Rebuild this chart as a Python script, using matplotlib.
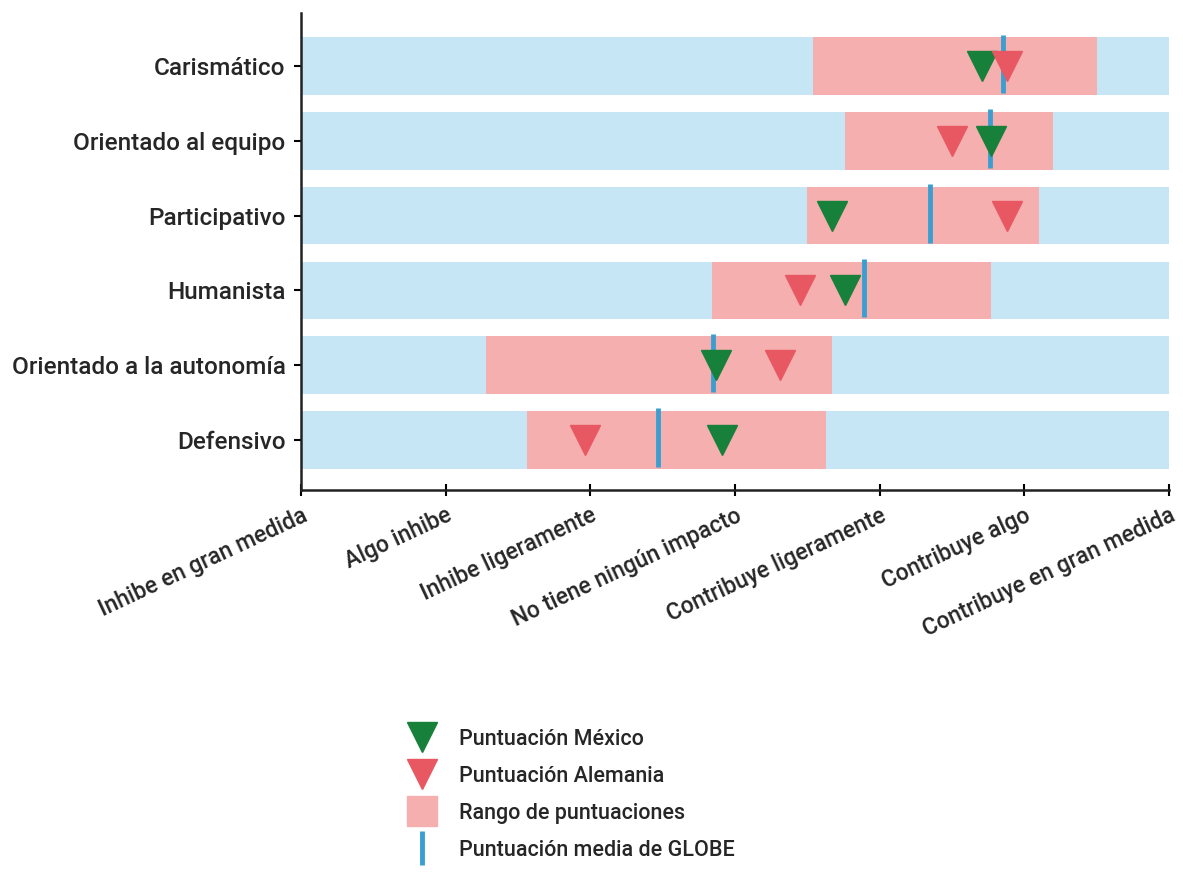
import matplotlib
matplotlib.use("Agg")
import matplotlib.pyplot as plt
from matplotlib.lines import Line2D

plt.rcParams['font.family'] = ['Roboto', 'DejaVu Sans']
plt.rcParams['font.weight'] = 'medium'

categories = ["Carismático", "Orientado al equipo", "Participativo",
              "Humanista", "Orientado a la autonomía", "Defensivo"]
range_low = [4.54, 4.76, 4.50, 3.84, 2.28, 2.56]
range_high = [6.50, 6.20, 6.10, 5.77, 4.67, 4.63]
mexico = [5.71, 5.77, 4.67, 4.76, 3.87, 3.91]
alemania = [5.88, 5.50, 5.88, 4.45, 4.31, 2.96]
globe = [5.85, 5.76, 5.35, 4.89, 3.85, 3.47]
tick_labels = ["Inhibe en gran medida", "Algo inhibe", "Inhibe ligeramente",
               "No tiene ningún impacto", "Contribuye ligeramente",
               "Contribuye algo", "Contribuye en gran medida"]
scale_min, scale_max = 1, 7

c_blue = "#c6e6f6"
c_pink = "#f5afaf"
c_green = "#17803a"
c_red = "#e85863"
c_line = "#3a9fd0"
c_text = "#262626"

fig = plt.figure(figsize=(11.83, 8.74), dpi=100)
ax = fig.add_axes([0.2544, 0.4394, 0.9882 - 0.2544, 0.9851 - 0.4394])

ypos = list(range(len(categories)))
bh = 0.77
ax.barh(ypos, [scale_max - scale_min] * len(ypos), left=scale_min, height=bh,
        color=c_blue, zorder=1)
ax.barh(ypos, [h - l for l, h in zip(range_low, range_high)], left=range_low,
        height=bh, color=c_pink, zorder=2)
for y, g in zip(ypos, globe):
    ax.plot([g, g], [y - 0.42, y + 0.36], color=c_line, lw=3.5, zorder=3,
            solid_capstyle='butt')
ax.plot(mexico, ypos, linestyle='none', marker='v', markersize=22,
        color=c_green, zorder=4)
ax.plot(alemania, ypos, linestyle='none', marker='v', markersize=22,
        color=c_red, zorder=5)

ax.set_xlim(scale_min, scale_max)
ax.set_ylim(len(categories) - 1 + 0.67, -0.71)
ax.set_yticks(ypos)
ax.set_yticklabels(categories, fontsize=17.5, color=c_text)
ax.set_xticks(range(scale_min, scale_max + 1))
ax.set_xticklabels(tick_labels, fontsize=16.5, color=c_text, rotation=25,
                   ha='right', rotation_mode='anchor')
for s in ['top', 'right']:
    ax.spines[s].set_visible(False)
for s in ['left', 'bottom']:
    ax.spines[s].set_linewidth(1.8)
    ax.spines[s].set_color("#222222")
ax.tick_params(axis='y', length=5, width=1.5, pad=6)
ax.tick_params(axis='x', length=8, width=1.5, direction='inout', pad=6)

handles = [
    Line2D([], [], linestyle='none', marker='v', markersize=22, color=c_green),
    Line2D([], [], linestyle='none', marker='v', markersize=22, color=c_red),
    Line2D([], [], linestyle='none', marker='s', markersize=22, color=c_pink),
    Line2D([], [], linestyle='none', marker='|', markersize=24,
           markeredgewidth=3.5, color=c_line),
]
labels = ["Puntuación México", "Puntuación Alemania", "Rango de puntuaciones",
          "Puntuación media de GLOBE"]
fig.legend(handles, labels, loc='upper left', bbox_to_anchor=(0.335, 0.176),
           frameon=False, fontsize=15.5, handlelength=1.6, handletextpad=0.9,
           labelspacing=0.74, borderaxespad=0, labelcolor=c_text)

fig.savefig("out.png", dpi=100)
